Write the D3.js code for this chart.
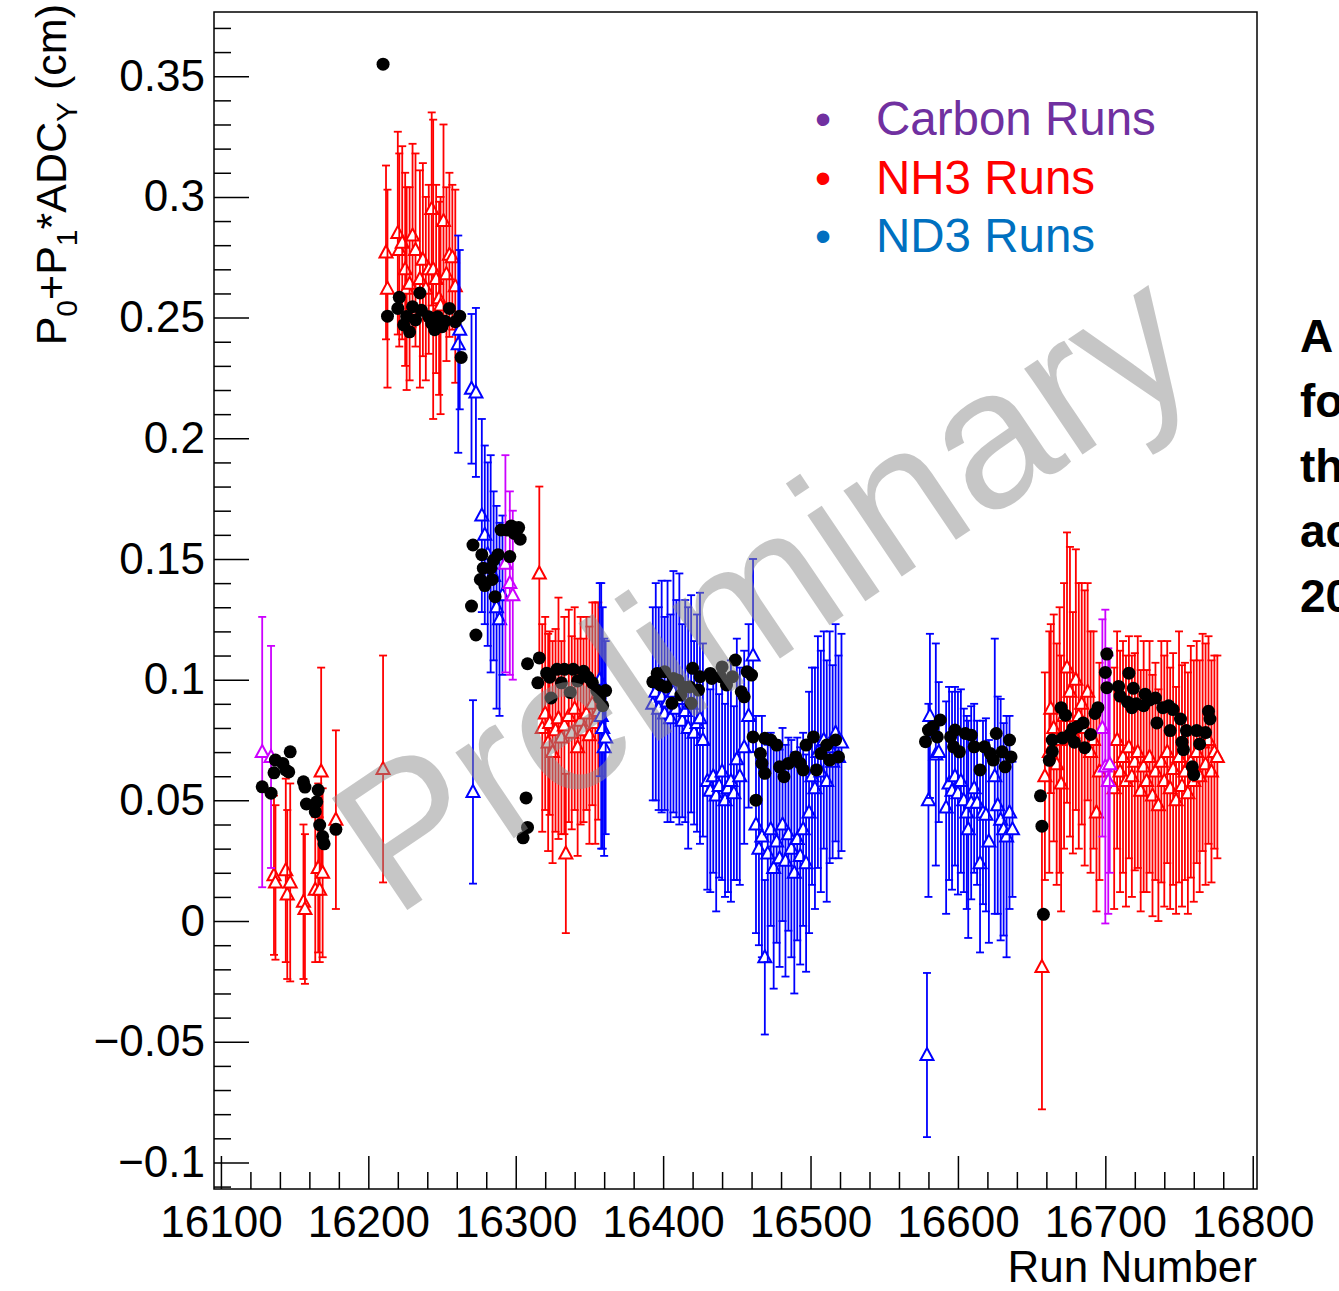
<!DOCTYPE html>
<html>
<head>
<meta charset="utf-8">
<script src="https://cdn.jsdelivr.net/npm/d3@7"></script>
<style>
  body { margin: 0; background: #fff; }
  text { font-family: "Liberation Sans", Arial, Helvetica, sans-serif; }
</style>
</head>
<body>
<div id="chart"></div>
<script>
// axis ticks
var xTicks = [16100, 16200, 16300, 16400, 16500, 16600, 16700, 16800];
var yTicks = [-0.1, -0.05, 0, 0.05, 0.1, 0.15, 0.2, 0.25, 0.3, 0.35];
var yTickLabels = ['\u22120.1', '\u22120.05', '0', '0.05', '0.1', '0.15', '0.2', '0.25', '0.3', '0.35'];

// [run, value, error]  - NH3 runs (red)
var nh3 = [
  [16136,0.019,0.033],[16137,0.016,0.032],[16144,0.021,0.038],[16145,0.011,0.035],[16147,0.016,0.041],
  [16156,0.008,0.032],[16157,0.005,0.031],[16164,0.013,0.030],[16166,0.022,0.035],[16167,0.013,0.030],
  [16168,0.062,0.043],[16169,0.020,0.035],[16178,0.042,0.037],
  [16210,0.063,0.047],
  [16212,0.277,0.036],[16213,0.262,0.041],[16220,0.285,0.042],[16221,0.278,0.040],[16223,0.281,0.040],
  [16225,0.270,0.040],[16226,0.262,0.042],[16228,0.264,0.040],[16230,0.284,0.038],[16232,0.278,0.040],
  [16235,0.266,0.045],[16237,0.274,0.040],[16239,0.262,0.038],[16241,0.270,0.035],[16243,0.295,0.040],
  [16244,0.270,0.062],[16246,0.266,0.039],[16248,0.258,0.040],[16249,0.255,0.045],[16251,0.290,0.040],
  [16253,0.268,0.036],[16255,0.276,0.034],[16257,0.275,0.030],[16259,0.263,0.040],
  [16316,0.144,0.036],[16318,0.080,0.043],[16320,0.086,0.040],[16322,0.074,0.045],[16323,0.082,0.038],
  [16325,0.070,0.046],[16327,0.079,0.042],[16329,0.084,0.050],[16331,0.076,0.040],[16333,0.081,0.045],
  [16334,0.028,0.033],[16336,0.085,0.044],[16338,0.078,0.040],[16340,0.088,0.042],[16342,0.072,0.045],
  [16344,0.083,0.043],[16346,0.079,0.038],[16348,0.086,0.040],[16350,0.077,0.045],[16352,0.090,0.042],
  [16354,0.082,0.050],[16356,0.087,0.045],
  [16657,-0.019,0.059],[16659,0.060,0.043],[16662,0.070,0.050],[16663,0.088,0.035],[16665,0.080,0.047],
  [16667,0.065,0.050],[16669,0.075,0.055],[16670,0.057,0.053],[16672,0.085,0.055],[16674,0.105,0.056],
  [16676,0.095,0.060],[16678,0.078,0.050],[16680,0.100,0.054],[16682,0.085,0.055],[16684,0.090,0.050],
  [16686,0.080,0.057],[16688,0.095,0.045],[16690,0.070,0.050],[16692,0.075,0.045],[16694,0.045,0.041],
  [16696,0.062,0.045],
  [16706,0.055,0.050],[16708,0.075,0.045],[16710,0.062,0.050],[16712,0.068,0.048],[16714,0.058,0.052],
  [16716,0.072,0.046],[16718,0.060,0.050],[16720,0.066,0.045],[16722,0.070,0.048],[16724,0.054,0.050],
  [16726,0.064,0.052],[16728,0.058,0.046],[16730,0.068,0.048],[16732,0.052,0.050],[16734,0.062,0.045],
  [16736,0.048,0.048],[16738,0.066,0.050],[16740,0.058,0.052],[16742,0.070,0.046],[16744,0.055,0.050],
  [16746,0.063,0.048],[16748,0.050,0.047],[16750,0.068,0.052],[16752,0.056,0.050],[16754,0.062,0.045],
  [16756,0.053,0.050],[16758,0.066,0.048],[16760,0.058,0.050],[16762,0.070,0.046],[16764,0.060,0.048],
  [16766,0.074,0.045],[16768,0.065,0.050],[16770,0.075,0.043],[16772,0.062,0.046],[16774,0.070,0.040],
  [16776,0.068,0.042]
];

// ND3 runs (blue)
var nd3 = [
  [16261,0.239,0.045],[16262,0.245,0.033],[16270,0.2205,0.031],[16271,0.0535,0.038],[16273,0.219,0.035],
  [16277,0.168,0.040],[16279,0.160,0.037],[16281,0.152,0.038],[16283,0.148,0.045],[16285,0.143,0.035],
  [16287,0.130,0.042],[16289,0.125,0.040],[16291,0.135,0.033],
  [16357,0.100,0.040],[16358,0.085,0.055],[16359,0.080,0.050],[16360,0.072,0.045],[16361,0.076,0.040],
  [16393,0.090,0.040],[16395,0.095,0.045],[16397,0.088,0.042],[16399,0.093,0.048],[16401,0.086,0.040],
  [16403,0.091,0.050],[16405,0.084,0.043],[16407,0.095,0.050],[16409,0.088,0.045],[16411,0.092,0.052],
  [16413,0.083,0.040],[16415,0.087,0.046],[16417,0.080,0.050],[16419,0.090,0.045],[16421,0.078,0.038],
  [16423,0.082,0.045],[16425,0.084,0.052],[16427,0.075,0.040],[16430,0.058,0.045],[16432,0.054,0.042],
  [16434,0.060,0.040],[16436,0.052,0.048],[16438,0.056,0.038],[16440,0.062,0.045],[16442,0.050,0.040],
  [16444,0.055,0.043],[16446,0.058,0.050],[16448,0.053,0.036],[16450,0.067,0.050],[16452,0.060,0.045],
  [16455,0.072,0.040],[16458,0.085,0.038],[16461,0.110,0.040],
  [16463,0.040,0.045],[16465,0.030,0.040],[16467,0.035,0.050],[16469,-0.015,0.032],[16471,0.028,0.045],
  [16473,0.038,0.040],[16475,0.022,0.050],[16477,0.033,0.042],[16479,0.026,0.045],[16481,0.040,0.040],
  [16483,0.025,0.048],[16485,0.036,0.040],[16487,0.030,0.045],[16489,0.020,0.050],[16491,0.034,0.042],
  [16493,0.027,0.045],[16495,0.038,0.040],[16497,0.024,0.045],[16499,0.045,0.050],[16501,0.060,0.045],
  [16503,0.055,0.050],[16505,0.070,0.048],[16507,0.062,0.050],[16509,0.075,0.045],[16511,0.058,0.050],
  [16513,0.072,0.048],[16515,0.066,0.040],[16517,0.078,0.045],[16519,0.068,0.042],[16521,0.074,0.045],
  [16579,-0.0555,0.034],[16580,0.050,0.040],[16581,0.085,0.034],[16585,0.069,0.046],[16587,0.070,0.029],
  [16592,0.047,0.044],[16594,0.057,0.040],[16596,0.054,0.041],[16598,0.060,0.037],[16600,0.053,0.042],
  [16602,0.058,0.038],[16604,0.050,0.038],[16606,0.045,0.040],[16607,0.038,0.045],[16609,0.049,0.040],
  [16611,0.055,0.035],[16613,0.049,0.034],[16615,0.024,0.037],[16617,0.045,0.038],[16619,0.044,0.040],
  [16621,0.033,0.042],[16625,0.060,0.057],[16627,0.048,0.045],[16629,0.042,0.050],[16631,0.038,0.044],
  [16633,0.035,0.050],[16635,0.045,0.040],[16637,0.038,0.028]
];

// Carbon runs (magenta)
var carbon = [
  [16128,0.070,0.056],[16134,0.068,0.046],
  [16293,0.148,0.045],[16296,0.140,0.038],[16298,0.135,0.035],
  [16698,0.080,0.045],[16700,0.064,0.065],[16702,0.058,0.055],[16703,0.065,0.045]
];

// P0+P1*ADC_Y fit (black dots)  [run, value]
var fit = [
  [16128,0.0556],[16134,0.053],[16136,0.0614],[16137,0.0667],[16142,0.0653],[16144,0.0626],[16147,0.0701],
  [16146,0.0618],[16156,0.0577],[16157,0.0555],[16158,0.0485],[16164,0.0453],[16166,0.0543],[16165,0.0494],
  [16167,0.0398],[16169,0.035],[16170,0.032],[16178,0.038],
  [16210,0.355],
  [16213,0.2506],[16220,0.2538],[16221,0.2584],[16224,0.247],[16226,0.2505],[16228,0.2441],[16230,0.2545],
  [16232,0.249],[16235,0.2602],[16236,0.253],[16241,0.2503],[16243,0.2476],[16245,0.245],[16247,0.2503],
  [16250,0.2462],[16252,0.2485],[16255,0.2538],[16259,0.2483],[16262,0.2506],[16263,0.2335],
  [16270,0.1305],[16271,0.1558],[16273,0.1185],[16276,0.1415],[16277,0.1518],[16278,0.1462],[16279,0.139],
  [16283,0.1462],[16284,0.1415],[16285,0.1495],[16286,0.1344],[16288,0.1518],[16290,0.162],[16294,0.162],
  [16296,0.151],[16297,0.1637],[16299,0.1606],[16302,0.163],[16303,0.1582],
  [16305,0.0345],[16307,0.051],[16308,0.0388],
  [16308,0.1066],[16315,0.0987],[16316,0.109],[16321,0.1027],[16323,0.101],[16324,0.0924],[16328,0.1043],
  [16331,0.0987],[16333,0.1043],[16337,0.0947],[16339,0.1043],[16342,0.0995],[16346,0.1035],[16349,0.101],
  [16352,0.0987],[16355,0.0955],[16357,0.0924],[16359,0.0892],[16361,0.0955],
  [16393,0.0991],[16396,0.1026],[16398,0.0978],[16401,0.1033],[16402,0.097],[16406,0.0902],[16407,0.1005],
  [16410,0.0998],[16412,0.0936],[16414,0.097],[16418,0.097],[16419,0.0902],[16420,0.1047],[16424,0.0957],
  [16425,0.1012],[16432,0.1026],[16433,0.1005],[16439,0.1012],[16440,0.1053],[16443,0.0978],[16447,0.1012],
  [16449,0.1081],[16453,0.095],[16455,0.0929],[16457,0.1033],[16460,0.1019],
  [16461,0.0763],[16463,0.0501],[16466,0.0694],[16467,0.0653],[16469,0.0757],[16469,0.0612],[16473,0.075],
  [16477,0.0729],[16479,0.0639],[16482,0.0598],[16485,0.0653],[16490,0.068],[16493,0.0653],[16495,0.0626],
  [16497,0.0729],[16502,0.0763],[16504,0.0626],[16507,0.0694],[16511,0.0729],[16513,0.0667],[16517,0.075],
  [16519,0.068],
  [16578,0.0743],[16580,0.0791],[16583,0.0805],[16586,0.0763],[16588,0.0833],[16595,0.0763],[16597,0.0722],
  [16598,0.0791],[16601,0.0701],[16605,0.0777],[16609,0.077],[16611,0.0722],[16615,0.0626],[16618,0.0722],
  [16622,0.0694],[16624,0.0667],[16626,0.0777],[16630,0.0701],[16632,0.0639],[16635,0.075],[16636,0.068],
  [16656,0.0519],[16657,0.0393],[16658,0.0028],[16662,0.0666],[16664,0.0702],[16664,0.075],[16670,0.0884],
  [16671,0.0758],[16673,0.0853],[16676,0.0773],[16678,0.0797],[16679,0.0741],[16681,0.0805],[16685,0.0821],
  [16686,0.0718],[16690,0.0773],[16693,0.086],[16695,0.0884],[16700,0.103],[16701,0.1106],[16701,0.0967],
  [16709,0.0972],[16710,0.0932],[16715,0.0908],[16716,0.1027],[16718,0.0884],[16719,0.0964],[16721,0.09],
  [16726,0.0892],[16727,0.094],[16730,0.0916],[16734,0.0924],[16735,0.0821],[16739,0.0884],[16743,0.0892],
  [16744,0.0789],[16746,0.0876],[16751,0.0837],[16752,0.0741],[16753,0.071],[16755,0.0789],[16759,0.0639],
  [16760,0.0607],[16762,0.0789],[16764,0.0734],[16768,0.0781],[16770,0.0869],[16771,0.0837]
];

var W = 1339, H = 1291;
var frame = { left: 214, right: 1257, top: 12, bottom: 1189 };

var svg = d3.select('#chart').append('svg')
  .attr('width', W)
  .attr('height', H)
  .style('background', '#fff');

var x = d3.scaleLinear().domain([16095.3, 16802.9]).range([frame.left, frame.right]);
var y = d3.scaleLinear().domain([-0.111, 0.3766]).range([frame.bottom, frame.top]);

// frame
svg.append('rect')
  .attr('x', frame.left).attr('y', frame.top)
  .attr('width', frame.right - frame.left).attr('height', frame.bottom - frame.top)
  .style('fill', 'none').style('stroke', '#000').style('stroke-width', 1.5);

// x axis ticks
var xMinor = [];
for (var r = 16100; r <= 16800; r += 20) if (xTicks.indexOf(r) < 0) xMinor.push(r);

svg.append('g')
  .attr('transform', 'translate(0,' + frame.bottom + ')')
  .call(d3.axisBottom(x).tickValues(xMinor).tickSize(-17).tickFormat(''))
  .call(function(g) { g.select('.domain').remove(); });

var gx = svg.append('g')
  .attr('transform', 'translate(0,' + frame.bottom + ')')
  .call(d3.axisBottom(x).tickValues(xTicks).tickSize(-33).tickPadding(17).tickFormat(d3.format('d')));
gx.select('.domain').remove();
gx.selectAll('text').style('font-size', '44px').style('fill', '#000');

// y axis ticks
var yMinor = [];
for (var k = -11; k <= 37; k++) if (k % 5 !== 0) yMinor.push(k / 100);

svg.append('g')
  .attr('transform', 'translate(' + frame.left + ',0)')
  .call(d3.axisLeft(y).tickValues(yMinor).tickSize(-17).tickFormat(''))
  .call(function(g) { g.select('.domain').remove(); });

var gy = svg.append('g')
  .attr('transform', 'translate(' + frame.left + ',0)')
  .call(d3.axisLeft(y).tickValues(yTicks).tickSize(-35).tickPadding(9)
    .tickFormat(function(d, i) { return yTickLabels[i]; }));
gy.select('.domain').remove();
gy.selectAll('text').style('font-size', '44px').style('fill', '#000');
svg.selectAll('.tick line').style('stroke', '#000').style('stroke-width', 1.5);

// axis titles
svg.append('text')
  .attr('x', frame.right).attr('y', 1282)
  .attr('text-anchor', 'end')
  .style('font-size', '44px')
  .text('Run Number');

var yt = svg.append('text')
  .attr('transform', 'translate(66,4) rotate(-90)')
  .attr('text-anchor', 'end')
  .style('font-size', '43px');
yt.append('tspan').text('P');
yt.append('tspan').attr('dy', 11).style('font-size', '30px').text('0');
yt.append('tspan').attr('dy', -11).text('+P');
yt.append('tspan').attr('dy', 11).style('font-size', '30px').text('1');
yt.append('tspan').attr('dy', -11).text('*ADC');
yt.append('tspan').attr('dy', 11).style('font-size', '30px').text('Y');
yt.append('tspan').attr('dy', -11).text(' (cm)');

// error bars + open triangles
function drawSeries(data, color) {
  var g = svg.append('g');
  var pts = g.selectAll('g.pt').data(data).enter().append('g').attr('class', 'pt');
  pts.append('line')
    .attr('x1', function(d) { return x(d[0]); })
    .attr('x2', function(d) { return x(d[0]); })
    .attr('y1', function(d) { return y(d[1] - d[2]); })
    .attr('y2', function(d) { return y(d[1] + d[2]); })
    .style('stroke', color).style('stroke-width', 1.8);
  [-1, 1].forEach(function(s) {
    pts.append('line')
      .attr('x1', function(d) { return x(d[0]) - 4; })
      .attr('x2', function(d) { return x(d[0]) + 4; })
      .attr('y1', function(d) { return y(d[1] + s * d[2]); })
      .attr('y2', function(d) { return y(d[1] + s * d[2]); })
      .style('stroke', color).style('stroke-width', 1.8);
  });
  pts.append('path')
    .attr('d', 'M0,-7 L6.5,5 L-6.5,5 Z')
    .attr('transform', function(d) { return 'translate(' + x(d[0]) + ',' + y(d[1]) + ')'; })
    .style('fill', '#fff').style('stroke', color).style('stroke-width', 2);
}

drawSeries(nh3, '#ff0000');
drawSeries(nd3, '#0000ff');
drawSeries(carbon, '#cc00ff');

svg.append('g').selectAll('circle')
  .data(fit)
  .enter().append('circle')
  .attr('cx', function(d) { return x(d[0]); })
  .attr('cy', function(d) { return y(d[1]); })
  .attr('r', 6.5)
  .style('fill', '#000');

// legend (slide overlay)
var legend = [
  { label: 'Carbon Runs', color: '#7030a0' },
  { label: 'NH3 Runs', color: '#ff0000' },
  { label: 'ND3 Runs', color: '#0070c0' }
];
legend.forEach(function(l, i) {
  svg.append('text')
    .attr('x', 823).attr('y', 135 + i * 58.5)
    .attr('text-anchor', 'middle')
    .style('font-size', '46px').style('fill', l.color)
    .text('\u2022');
  svg.append('text')
    .attr('x', 876).attr('y', 135 + i * 58.5)
    .style('font-size', '47.5px').style('fill', l.color)
    .text(l.label);
});

// clipped side note
['A', 'fo', 'th', 'ac', '20'].forEach(function(s, i) {
  svg.append('text')
    .attr('x', 1300).attr('y', 352 + i * 65)
    .style('font-size', '46px').style('font-weight', 'bold').style('fill', '#000')
    .text(s);
});

// watermark
svg.append('text')
  .attr('transform', 'translate(762,588) rotate(-34)')
  .attr('text-anchor', 'middle')
  .attr('dy', '0.35em')
  .style('font-size', '196px')
  .style('fill', '#8f8f8f')
  .style('opacity', 0.5)
  .text('Preliminary');
</script>
</body>
</html>
